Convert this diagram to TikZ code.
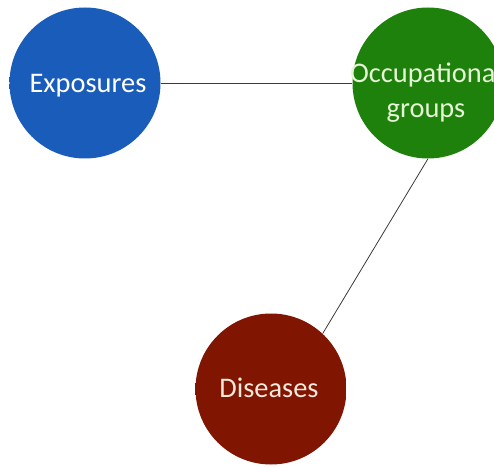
\documentclass[tikz,border=0pt]{standalone}
\usepackage{fontspec}
\setmainfont{Carlito}
\usetikzlibrary{calc}
\definecolor{expC}{HTML}{1A5CBA}
\definecolor{expD}{HTML}{0A2F72}
\definecolor{occC}{HTML}{1E810B}
\definecolor{occD}{HTML}{0B4703}
\definecolor{disC}{HTML}{801501}
\definecolor{disD}{HTML}{4A0900}
\definecolor{occT}{HTML}{E6F5D6}
\definecolor{disT}{HTML}{F7E8DC}
\definecolor{linkC}{HTML}{3A3A3A}
\pgfdeclareradialshading{expshade}{\pgfpointorigin}{color(0bp)=(expC); color(38bp)=(expC); color(50bp)=(expD)}
\pgfdeclareradialshading{occshade}{\pgfpointorigin}{color(0bp)=(occC); color(38bp)=(occC); color(50bp)=(occD)}
\pgfdeclareradialshading{disshade}{\pgfpointorigin}{color(0bp)=(disC); color(38bp)=(disC); color(50bp)=(disD)}
\tikzset{
  ball/.style={circle, minimum size=151bp, inner sep=0pt},
  lbl/.style={anchor=base, inner sep=0pt, font=\fontsize{28.5}{35}\selectfont},
  link/.style={draw=linkC, line width=0.8bp}
}
\begin{document}
\begin{tikzpicture}[x=1bp, y=-1bp]
\useasboundingbox (0,0) rectangle (494,468);
\clip (0,0) rectangle (494,468);
\fill[white] (0,0) rectangle (494,468);
\node[ball, shading=expshade] (exp) at (85,83) {};
\node[ball, shading=occshade] (occ) at (428,83) {};
\node[ball, shading=disshade] (dis) at (271,389) {};
\draw[link] (exp.east) -- (occ.west);
\draw[link] (occ.south) -- (dis.47);
\node[lbl, text=white] (expt) at (88,93) {Exposures};
\node[lbl, text=occT] (occt1) at (426,83) {Occupational};
\node[lbl, text=occT] (occt2) at (426,118) {groups};
\node[lbl, text=disT] (dist) at (269,397) {Diseases};
\end{tikzpicture}
\end{document}
